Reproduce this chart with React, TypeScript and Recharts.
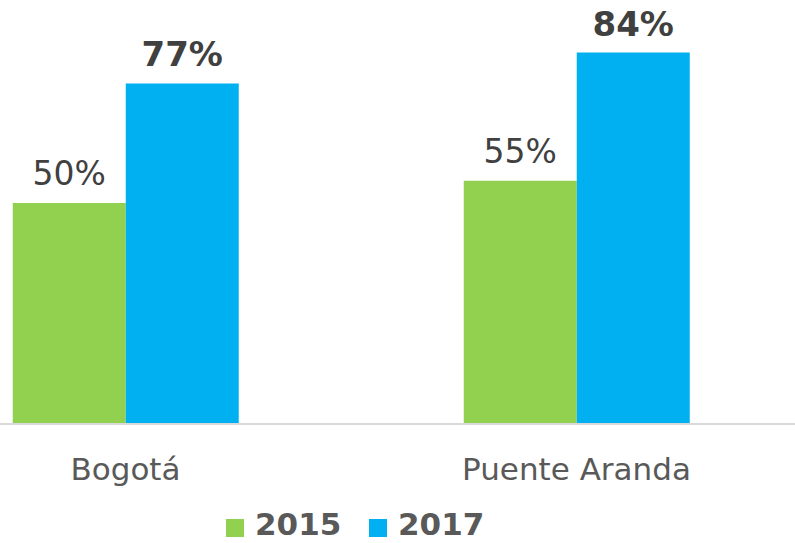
import { BarChart, Bar, XAxis, YAxis, LabelList } from 'recharts';

const FONT = '"DejaVu Sans", Verdana, sans-serif';

const categories = ['Bogotá', 'Puente Aranda'];
const values2015 = [50, 55];
const values2017 = [77, 84];
const seriesNames = ['2015', '2017'];
const seriesColors = ['#92D050', '#00B0F0'];

const data = categories.map((name, i) => ({
  name,
  y2015: values2015[i],
  y2017: values2017[i],
}));

const CategoryTick = ({ x, y, payload }: any) => (
  <text x={x} y={y + 56} textAnchor="middle" fill="#595959" fontSize={31} fontFamily={FONT}>
    {payload.value}
  </text>
);

const pct = (v: any) => `${v}%`;

// legend item left edges
const legendX = [226, 369];

export default function App() {
  return (
    <div style={{ position: 'fixed', left: 0, top: 0, width: 795, height: 543, overflow: 'hidden', background: '#fff' }}>
      <BarChart
        width={795}
        height={543}
        data={data}
        margin={{ top: 26, right: -7, bottom: 0, left: -100 }}
        barCategoryGap="25%"
        barGap={0}
      >
        <YAxis hide domain={[0, 90]} />
        <XAxis
          dataKey="name"
          height={119}
          axisLine={{ stroke: '#D9D9D9', strokeWidth: 2 }}
          tickLine={false}
          tickSize={0}
          tickMargin={0}
          tick={<CategoryTick />}
        />
        <Bar dataKey="y2015" name={seriesNames[0]} fill={seriesColors[0]} isAnimationActive={false}>
          <LabelList
            dataKey="y2015"
            position="top"
            offset={18}
            formatter={pct}
            fill="#404040"
            fontSize={33}
            fontFamily={FONT}
          />
        </Bar>
        <Bar dataKey="y2017" name={seriesNames[1]} fill={seriesColors[1]} isAnimationActive={false}>
          <LabelList
            dataKey="y2017"
            position="top"
            offset={17}
            formatter={pct}
            fill="#404040"
            fontSize={34}
            fontWeight="bold"
            fontFamily={FONT}
          />
        </Bar>
      </BarChart>
      {seriesNames.map((s, i) => (
        <div key={s}>
          <span
            style={{
              position: 'absolute',
              left: legendX[i],
              top: 519,
              width: 18,
              height: 18,
              background: seriesColors[i],
            }}
          />
          <span
            style={{
              position: 'absolute',
              left: legendX[i] + 29,
              top: 506,
              fontFamily: FONT,
              fontWeight: 'bold',
              fontSize: 31,
              lineHeight: '36px',
              color: '#595959',
              whiteSpace: 'nowrap',
            }}
          >
            {s}
          </span>
        </div>
      ))}
    </div>
  );
}
